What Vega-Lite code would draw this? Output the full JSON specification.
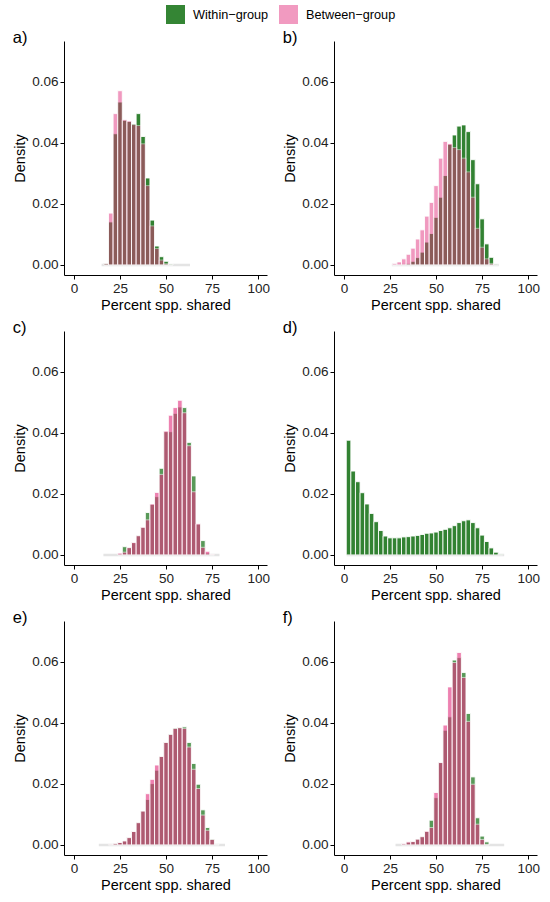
{
  "$schema": "https://vega.github.io/schema/vega-lite/v6.json",
  "padding": {"left": 12, "top": 5, "right": 5, "bottom": 5},
  "config": {
    "font": "Liberation Sans",
    "view": {"stroke": null},
    "axis": {
      "grid": false, "domainColor": "black", "tickColor": "black", "labelColor": "#222",
      "labelFontSize": 13.5, "titleFontSize": 14.5, "titleFontWeight": "normal", "titleColor": "black",
      "tickSize": 4, "labelPadding": 2, "titlePadding": 4
    },
    "title": {"anchor": "start", "frame": "bounds", "fontSize": 16.5, "fontWeight": "normal", "color": "black", "offset": -5},
    "legend": {
      "orient": "none", "direction": "horizontal", "legendX": 102, "legendY": -36,
      "symbolType": "square", "symbolSize": 361, "symbolStrokeWidth": 0, "symbolOpacity": 1,
      "labelFontSize": 12.7, "labelOffset": 8, "columnPadding": 10, "title": null
    }
  },
  "datasets": {
    "ext": [
      {"p": "a", "lo": 15, "hi": 63}, {"p": "b", "lo": 26, "hi": 84}, {"p": "c", "lo": 16, "hi": 79},
      {"p": "d", "lo": 1.5, "hi": 87}, {"p": "e", "lo": 13.5, "hi": 82}, {"p": "f", "lo": 28, "hi": 87}
    ],
    "bins": [
      {"p": "a", "pct": 17.5, "W": 0.0005, "B": 0.0005},
      {"p": "a", "pct": 20, "W": 0.0141, "B": 0.0170},
      {"p": "a", "pct": 22.5, "W": 0.0430, "B": 0.0496},
      {"p": "a", "pct": 25, "W": 0.0534, "B": 0.0571},
      {"p": "a", "pct": 27.5, "W": 0.0474, "B": 0.0476},
      {"p": "a", "pct": 30, "W": 0.0470, "B": 0.0472},
      {"p": "a", "pct": 32.5, "W": 0.0462, "B": 0.0460},
      {"p": "a", "pct": 35, "W": 0.0496, "B": 0.0457},
      {"p": "a", "pct": 37.5, "W": 0.0421, "B": 0.0397},
      {"p": "a", "pct": 40, "W": 0.0285, "B": 0.0260},
      {"p": "a", "pct": 42.5, "W": 0.0147, "B": 0.0128},
      {"p": "a", "pct": 45, "W": 0.0062, "B": 0.0054},
      {"p": "a", "pct": 47.5, "W": 0.0027, "B": 0.0016},
      {"p": "a", "pct": 50, "W": 0.0012, "B": 0.0004},
      {"p": "a", "pct": 52.5, "W": 0.0003, "B": 0.0001},
      {"p": "b", "pct": 27.5, "W": 0, "B": 0.0005},
      {"p": "b", "pct": 30, "W": 0.0001, "B": 0.0010},
      {"p": "b", "pct": 32.5, "W": 0.0002, "B": 0.0020},
      {"p": "b", "pct": 35, "W": 0.0004, "B": 0.0035},
      {"p": "b", "pct": 37.5, "W": 0.0012, "B": 0.0055},
      {"p": "b", "pct": 40, "W": 0.0024, "B": 0.0085},
      {"p": "b", "pct": 42.5, "W": 0.0042, "B": 0.0115},
      {"p": "b", "pct": 45, "W": 0.0075, "B": 0.0160},
      {"p": "b", "pct": 47.5, "W": 0.0103, "B": 0.0205},
      {"p": "b", "pct": 50, "W": 0.0156, "B": 0.0260},
      {"p": "b", "pct": 52.5, "W": 0.0222, "B": 0.0350},
      {"p": "b", "pct": 55, "W": 0.0293, "B": 0.0405},
      {"p": "b", "pct": 57.5, "W": 0.0395, "B": 0.0398},
      {"p": "b", "pct": 60, "W": 0.0426, "B": 0.0385},
      {"p": "b", "pct": 62.5, "W": 0.0455, "B": 0.0378},
      {"p": "b", "pct": 65, "W": 0.0459, "B": 0.0350},
      {"p": "b", "pct": 67.5, "W": 0.0437, "B": 0.0305},
      {"p": "b", "pct": 70, "W": 0.0345, "B": 0.0222},
      {"p": "b", "pct": 72.5, "W": 0.0266, "B": 0.0120},
      {"p": "b", "pct": 75, "W": 0.0151, "B": 0.0058},
      {"p": "b", "pct": 77.5, "W": 0.0069, "B": 0.0020},
      {"p": "b", "pct": 80, "W": 0.0025, "B": 0.0005},
      {"p": "b", "pct": 82.5, "W": 0.0003, "B": 0.0001},
      {"p": "c", "pct": 25, "W": 0.0003, "B": 0.0006},
      {"p": "c", "pct": 27.5, "W": 0.0027, "B": 0.0009},
      {"p": "c", "pct": 30, "W": 0.0024, "B": 0.0024},
      {"p": "c", "pct": 32.5, "W": 0.0040, "B": 0.0041},
      {"p": "c", "pct": 35, "W": 0.0063, "B": 0.0063},
      {"p": "c", "pct": 37.5, "W": 0.0090, "B": 0.0091},
      {"p": "c", "pct": 40, "W": 0.0139, "B": 0.0115},
      {"p": "c", "pct": 42.5, "W": 0.0166, "B": 0.0167},
      {"p": "c", "pct": 45, "W": 0.0191, "B": 0.0205},
      {"p": "c", "pct": 47.5, "W": 0.0284, "B": 0.0264},
      {"p": "c", "pct": 50, "W": 0.0404, "B": 0.0406},
      {"p": "c", "pct": 52.5, "W": 0.0404, "B": 0.0458},
      {"p": "c", "pct": 55, "W": 0.0464, "B": 0.0483},
      {"p": "c", "pct": 57.5, "W": 0.0485, "B": 0.0507},
      {"p": "c", "pct": 60, "W": 0.0483, "B": 0.0466},
      {"p": "c", "pct": 62.5, "W": 0.0369, "B": 0.0358},
      {"p": "c", "pct": 65, "W": 0.0259, "B": 0.0207},
      {"p": "c", "pct": 67.5, "W": 0.0101, "B": 0.0102},
      {"p": "c", "pct": 70, "W": 0.0047, "B": 0.0025},
      {"p": "c", "pct": 72.5, "W": 0.0006, "B": 0.0012},
      {"p": "c", "pct": 75, "W": 0.0001, "B": 0.0002},
      {"p": "d", "pct": 2.5, "W": 0.0376},
      {"p": "d", "pct": 5, "W": 0.0275},
      {"p": "d", "pct": 7.5, "W": 0.0240},
      {"p": "d", "pct": 10, "W": 0.0204},
      {"p": "d", "pct": 12.5, "W": 0.0167},
      {"p": "d", "pct": 15, "W": 0.0136},
      {"p": "d", "pct": 17.5, "W": 0.0109},
      {"p": "d", "pct": 20, "W": 0.0080},
      {"p": "d", "pct": 22.5, "W": 0.0062},
      {"p": "d", "pct": 25, "W": 0.0056},
      {"p": "d", "pct": 27.5, "W": 0.0056},
      {"p": "d", "pct": 30, "W": 0.0056},
      {"p": "d", "pct": 32.5, "W": 0.0059},
      {"p": "d", "pct": 35, "W": 0.0060},
      {"p": "d", "pct": 37.5, "W": 0.0062},
      {"p": "d", "pct": 40, "W": 0.0064},
      {"p": "d", "pct": 42.5, "W": 0.0067},
      {"p": "d", "pct": 45, "W": 0.0071},
      {"p": "d", "pct": 47.5, "W": 0.0072},
      {"p": "d", "pct": 50, "W": 0.0075},
      {"p": "d", "pct": 52.5, "W": 0.0080},
      {"p": "d", "pct": 55, "W": 0.0084},
      {"p": "d", "pct": 57.5, "W": 0.0089},
      {"p": "d", "pct": 60, "W": 0.0096},
      {"p": "d", "pct": 62.5, "W": 0.0106},
      {"p": "d", "pct": 65, "W": 0.0112},
      {"p": "d", "pct": 67.5, "W": 0.0115},
      {"p": "d", "pct": 70, "W": 0.0106},
      {"p": "d", "pct": 72.5, "W": 0.0089},
      {"p": "d", "pct": 75, "W": 0.0065},
      {"p": "d", "pct": 77.5, "W": 0.0044},
      {"p": "d", "pct": 80, "W": 0.0023},
      {"p": "d", "pct": 82.5, "W": 0.0009},
      {"p": "d", "pct": 85, "W": 0.0002},
      {"p": "e", "pct": 20, "W": 0.0002, "B": 0.0002},
      {"p": "e", "pct": 22.5, "W": 0.0005, "B": 0.0005},
      {"p": "e", "pct": 25, "W": 0.0008, "B": 0.0008},
      {"p": "e", "pct": 27.5, "W": 0.0013, "B": 0.0013},
      {"p": "e", "pct": 30, "W": 0.0024, "B": 0.0024},
      {"p": "e", "pct": 32.5, "W": 0.0044, "B": 0.0044},
      {"p": "e", "pct": 35, "W": 0.0073, "B": 0.0073},
      {"p": "e", "pct": 37.5, "W": 0.0111, "B": 0.0111},
      {"p": "e", "pct": 40, "W": 0.0149, "B": 0.0168},
      {"p": "e", "pct": 42.5, "W": 0.0201, "B": 0.0215},
      {"p": "e", "pct": 45, "W": 0.0245, "B": 0.0262},
      {"p": "e", "pct": 47.5, "W": 0.0290, "B": 0.0290},
      {"p": "e", "pct": 50, "W": 0.0336, "B": 0.0336},
      {"p": "e", "pct": 52.5, "W": 0.0363, "B": 0.0362},
      {"p": "e", "pct": 55, "W": 0.0383, "B": 0.0382},
      {"p": "e", "pct": 57.5, "W": 0.0385, "B": 0.0384},
      {"p": "e", "pct": 60, "W": 0.0387, "B": 0.0382},
      {"p": "e", "pct": 62.5, "W": 0.0336, "B": 0.0321},
      {"p": "e", "pct": 65, "W": 0.0267, "B": 0.0248},
      {"p": "e", "pct": 67.5, "W": 0.0199, "B": 0.0185},
      {"p": "e", "pct": 70, "W": 0.0115, "B": 0.0098},
      {"p": "e", "pct": 72.5, "W": 0.0057, "B": 0.0048},
      {"p": "e", "pct": 75, "W": 0.0019, "B": 0.0018},
      {"p": "e", "pct": 77.5, "W": 0.0002, "B": 0.0001},
      {"p": "f", "pct": 32.5, "W": 0.0003, "B": 0.0004},
      {"p": "f", "pct": 35, "W": 0.0009, "B": 0.0010},
      {"p": "f", "pct": 37.5, "W": 0.0011, "B": 0.0011},
      {"p": "f", "pct": 40, "W": 0.0019, "B": 0.0019},
      {"p": "f", "pct": 42.5, "W": 0.0027, "B": 0.0027},
      {"p": "f", "pct": 45, "W": 0.0044, "B": 0.0045},
      {"p": "f", "pct": 47.5, "W": 0.0081, "B": 0.0057},
      {"p": "f", "pct": 50, "W": 0.0155, "B": 0.0172},
      {"p": "f", "pct": 52.5, "W": 0.0270, "B": 0.0270},
      {"p": "f", "pct": 55, "W": 0.0376, "B": 0.0393},
      {"p": "f", "pct": 57.5, "W": 0.0420, "B": 0.0518},
      {"p": "f", "pct": 60, "W": 0.0606, "B": 0.0598},
      {"p": "f", "pct": 62.5, "W": 0.0614, "B": 0.0631},
      {"p": "f", "pct": 65, "W": 0.0565, "B": 0.0549},
      {"p": "f", "pct": 67.5, "W": 0.0431, "B": 0.0405},
      {"p": "f", "pct": 70, "W": 0.0223, "B": 0.0199},
      {"p": "f", "pct": 72.5, "W": 0.0089, "B": 0.0068},
      {"p": "f", "pct": 75, "W": 0.0029, "B": 0.0018},
      {"p": "f", "pct": 77.5, "W": 0.0010, "B": 0.0002}
    ]
  },
  "columns": 2,
  "concat": [
    {
      "title": "a)", "width": 203, "height": 234,
      "layer": [
        {"data": {"name": "ext"}, "transform": [{"filter": "datum.p == 'a'"}],
         "mark": {"type": "rule", "color": "#e4e4e4", "strokeWidth": 2.5},
         "encoding": {
           "x": {"field": "lo", "type": "quantitative", "scale": {"domain": [-5.4, 104.8], "nice": false, "zero": false}, "axis": {"values": [0, 25, 50, 75, 100], "title": "Percent spp. shared"}},
           "x2": {"field": "hi"},
           "y": {"datum": 0, "type": "quantitative", "scale": {"domain": [-0.0033, 0.0734], "nice": false, "zero": false}, "axis": {"values": [0, 0.02, 0.04, 0.06], "format": ".2f", "title": "Density"}}}},
        {"data": {"name": "bins"},
         "transform": [{"fold": ["W", "B"], "as": ["group", "density"]}, {"filter": "datum.p == 'a' && datum.group == 'W' && isValid(datum.density)"}, {"calculate": "datum.pct - 1.25", "as": "lo"}, {"calculate": "datum.pct + 1.25", "as": "hi"}],
         "mark": {"type": "bar", "color": "#006400", "opacity": 0.8, "stroke": "white", "strokeWidth": 0.9},
         "encoding": {"x": {"field": "lo", "type": "quantitative"}, "x2": {"field": "hi"}, "y": {"field": "density", "type": "quantitative"}, "y2": {"datum": 0}}},
        {"data": {"name": "bins"},
         "transform": [{"fold": ["W", "B"], "as": ["group", "density"]}, {"filter": "datum.p == 'a' && datum.group == 'B' && isValid(datum.density)"}, {"calculate": "datum.pct - 1.25", "as": "lo"}, {"calculate": "datum.pct + 1.25", "as": "hi"}],
         "mark": {"type": "bar", "color": "#e33581", "opacity": 0.5, "stroke": "white", "strokeWidth": 0.9},
         "encoding": {"x": {"field": "lo", "type": "quantitative"}, "x2": {"field": "hi"}, "y": {"field": "density", "type": "quantitative"}, "y2": {"datum": 0}}},
        {"data": {"name": "bins"},
         "transform": [{"fold": ["W", "B"], "as": ["group", "density"]}, {"filter": "datum.p == 'a' && isValid(datum.density)"}],
         "mark": {"type": "square", "size": 0, "opacity": 1},
         "encoding": {"x": {"field": "pct", "type": "quantitative"}, "y": {"field": "density", "type": "quantitative"},
           "color": {"field": "group", "type": "nominal", "scale": {"domain": ["W", "B"], "range": ["#348534", "#f19ac0"]},
             "legend": {"labelExpr": "datum.label == 'W' ? 'Within\u2212group' : 'Between\u2212group'"}}}}
      ]
    },
    {
      "title": "b)", "width": 203, "height": 234,
      "layer": [
        {"data": {"name": "ext"}, "transform": [{"filter": "datum.p == 'b'"}],
         "mark": {"type": "rule", "color": "#e4e4e4", "strokeWidth": 2.5},
         "encoding": {
           "x": {"field": "lo", "type": "quantitative", "scale": {"domain": [-5.4, 104.8], "nice": false, "zero": false}, "axis": {"values": [0, 25, 50, 75, 100], "title": "Percent spp. shared"}},
           "x2": {"field": "hi"},
           "y": {"datum": 0, "type": "quantitative", "scale": {"domain": [-0.0033, 0.0734], "nice": false, "zero": false}, "axis": {"values": [0, 0.02, 0.04, 0.06], "format": ".2f", "title": "Density"}}}},
        {"data": {"name": "bins"},
         "transform": [{"fold": ["W", "B"], "as": ["group", "density"]}, {"filter": "datum.p == 'b' && datum.group == 'W' && isValid(datum.density)"}, {"calculate": "datum.pct - 1.25", "as": "lo"}, {"calculate": "datum.pct + 1.25", "as": "hi"}],
         "mark": {"type": "bar", "color": "#006400", "opacity": 0.8, "stroke": "white", "strokeWidth": 0.9},
         "encoding": {"x": {"field": "lo", "type": "quantitative"}, "x2": {"field": "hi"}, "y": {"field": "density", "type": "quantitative"}, "y2": {"datum": 0}}},
        {"data": {"name": "bins"},
         "transform": [{"fold": ["W", "B"], "as": ["group", "density"]}, {"filter": "datum.p == 'b' && datum.group == 'B' && isValid(datum.density)"}, {"calculate": "datum.pct - 1.25", "as": "lo"}, {"calculate": "datum.pct + 1.25", "as": "hi"}],
         "mark": {"type": "bar", "color": "#e33581", "opacity": 0.5, "stroke": "white", "strokeWidth": 0.9},
         "encoding": {"x": {"field": "lo", "type": "quantitative"}, "x2": {"field": "hi"}, "y": {"field": "density", "type": "quantitative"}, "y2": {"datum": 0}}}
      ]
    },
    {
      "title": "c)", "width": 203, "height": 234,
      "layer": [
        {"data": {"name": "ext"}, "transform": [{"filter": "datum.p == 'c'"}],
         "mark": {"type": "rule", "color": "#e4e4e4", "strokeWidth": 2.5},
         "encoding": {
           "x": {"field": "lo", "type": "quantitative", "scale": {"domain": [-5.4, 104.8], "nice": false, "zero": false}, "axis": {"values": [0, 25, 50, 75, 100], "title": "Percent spp. shared"}},
           "x2": {"field": "hi"},
           "y": {"datum": 0, "type": "quantitative", "scale": {"domain": [-0.0033, 0.0734], "nice": false, "zero": false}, "axis": {"values": [0, 0.02, 0.04, 0.06], "format": ".2f", "title": "Density"}}}},
        {"data": {"name": "bins"},
         "transform": [{"fold": ["W", "B"], "as": ["group", "density"]}, {"filter": "datum.p == 'c' && datum.group == 'W' && isValid(datum.density)"}, {"calculate": "datum.pct - 1.25", "as": "lo"}, {"calculate": "datum.pct + 1.25", "as": "hi"}],
         "mark": {"type": "bar", "color": "#006400", "opacity": 0.65, "stroke": "white", "strokeWidth": 0.9},
         "encoding": {"x": {"field": "lo", "type": "quantitative"}, "x2": {"field": "hi"}, "y": {"field": "density", "type": "quantitative"}, "y2": {"datum": 0}}},
        {"data": {"name": "bins"},
         "transform": [{"fold": ["W", "B"], "as": ["group", "density"]}, {"filter": "datum.p == 'c' && datum.group == 'B' && isValid(datum.density)"}, {"calculate": "datum.pct - 1.25", "as": "lo"}, {"calculate": "datum.pct + 1.25", "as": "hi"}],
         "mark": {"type": "bar", "color": "#e33581", "opacity": 0.62, "stroke": "white", "strokeWidth": 0.9},
         "encoding": {"x": {"field": "lo", "type": "quantitative"}, "x2": {"field": "hi"}, "y": {"field": "density", "type": "quantitative"}, "y2": {"datum": 0}}}
      ]
    },
    {
      "title": "d)", "width": 203, "height": 234,
      "layer": [
        {"data": {"name": "ext"}, "transform": [{"filter": "datum.p == 'd'"}],
         "mark": {"type": "rule", "color": "#e4e4e4", "strokeWidth": 2.5},
         "encoding": {
           "x": {"field": "lo", "type": "quantitative", "scale": {"domain": [-5.4, 104.8], "nice": false, "zero": false}, "axis": {"values": [0, 25, 50, 75, 100], "title": "Percent spp. shared"}},
           "x2": {"field": "hi"},
           "y": {"datum": 0, "type": "quantitative", "scale": {"domain": [-0.0033, 0.0734], "nice": false, "zero": false}, "axis": {"values": [0, 0.02, 0.04, 0.06], "format": ".2f", "title": "Density"}}}},
        {"data": {"name": "bins"},
         "transform": [{"fold": ["W", "B"], "as": ["group", "density"]}, {"filter": "datum.p == 'd' && datum.group == 'W' && isValid(datum.density)"}, {"calculate": "datum.pct - 1.25", "as": "lo"}, {"calculate": "datum.pct + 1.25", "as": "hi"}],
         "mark": {"type": "bar", "color": "#006400", "opacity": 0.8, "stroke": "white", "strokeWidth": 0.9},
         "encoding": {"x": {"field": "lo", "type": "quantitative"}, "x2": {"field": "hi"}, "y": {"field": "density", "type": "quantitative"}, "y2": {"datum": 0}}}
      ]
    },
    {
      "title": "e)", "width": 203, "height": 234,
      "layer": [
        {"data": {"name": "ext"}, "transform": [{"filter": "datum.p == 'e'"}],
         "mark": {"type": "rule", "color": "#e4e4e4", "strokeWidth": 2.5},
         "encoding": {
           "x": {"field": "lo", "type": "quantitative", "scale": {"domain": [-5.4, 104.8], "nice": false, "zero": false}, "axis": {"values": [0, 25, 50, 75, 100], "title": "Percent spp. shared"}},
           "x2": {"field": "hi"},
           "y": {"datum": 0, "type": "quantitative", "scale": {"domain": [-0.0033, 0.0734], "nice": false, "zero": false}, "axis": {"values": [0, 0.02, 0.04, 0.06], "format": ".2f", "title": "Density"}}}},
        {"data": {"name": "bins"},
         "transform": [{"fold": ["W", "B"], "as": ["group", "density"]}, {"filter": "datum.p == 'e' && datum.group == 'W' && isValid(datum.density)"}, {"calculate": "datum.pct - 1.25", "as": "lo"}, {"calculate": "datum.pct + 1.25", "as": "hi"}],
         "mark": {"type": "bar", "color": "#006400", "opacity": 0.65, "stroke": "white", "strokeWidth": 0.9},
         "encoding": {"x": {"field": "lo", "type": "quantitative"}, "x2": {"field": "hi"}, "y": {"field": "density", "type": "quantitative"}, "y2": {"datum": 0}}},
        {"data": {"name": "bins"},
         "transform": [{"fold": ["W", "B"], "as": ["group", "density"]}, {"filter": "datum.p == 'e' && datum.group == 'B' && isValid(datum.density)"}, {"calculate": "datum.pct - 1.25", "as": "lo"}, {"calculate": "datum.pct + 1.25", "as": "hi"}],
         "mark": {"type": "bar", "color": "#e33581", "opacity": 0.62, "stroke": "white", "strokeWidth": 0.9},
         "encoding": {"x": {"field": "lo", "type": "quantitative"}, "x2": {"field": "hi"}, "y": {"field": "density", "type": "quantitative"}, "y2": {"datum": 0}}}
      ]
    },
    {
      "title": "f)", "width": 203, "height": 234,
      "layer": [
        {"data": {"name": "ext"}, "transform": [{"filter": "datum.p == 'f'"}],
         "mark": {"type": "rule", "color": "#e4e4e4", "strokeWidth": 2.5},
         "encoding": {
           "x": {"field": "lo", "type": "quantitative", "scale": {"domain": [-5.4, 104.8], "nice": false, "zero": false}, "axis": {"values": [0, 25, 50, 75, 100], "title": "Percent spp. shared"}},
           "x2": {"field": "hi"},
           "y": {"datum": 0, "type": "quantitative", "scale": {"domain": [-0.0033, 0.0734], "nice": false, "zero": false}, "axis": {"values": [0, 0.02, 0.04, 0.06], "format": ".2f", "title": "Density"}}}},
        {"data": {"name": "bins"},
         "transform": [{"fold": ["W", "B"], "as": ["group", "density"]}, {"filter": "datum.p == 'f' && datum.group == 'W' && isValid(datum.density)"}, {"calculate": "datum.pct - 1.25", "as": "lo"}, {"calculate": "datum.pct + 1.25", "as": "hi"}],
         "mark": {"type": "bar", "color": "#006400", "opacity": 0.65, "stroke": "white", "strokeWidth": 0.9},
         "encoding": {"x": {"field": "lo", "type": "quantitative"}, "x2": {"field": "hi"}, "y": {"field": "density", "type": "quantitative"}, "y2": {"datum": 0}}},
        {"data": {"name": "bins"},
         "transform": [{"fold": ["W", "B"], "as": ["group", "density"]}, {"filter": "datum.p == 'f' && datum.group == 'B' && isValid(datum.density)"}, {"calculate": "datum.pct - 1.25", "as": "lo"}, {"calculate": "datum.pct + 1.25", "as": "hi"}],
         "mark": {"type": "bar", "color": "#e33581", "opacity": 0.62, "stroke": "white", "strokeWidth": 0.9},
         "encoding": {"x": {"field": "lo", "type": "quantitative"}, "x2": {"field": "hi"}, "y": {"field": "density", "type": "quantitative"}, "y2": {"datum": 0}}}
      ]
    }
  ],
  "spacing": {"row": 7, "column": 12}
}
